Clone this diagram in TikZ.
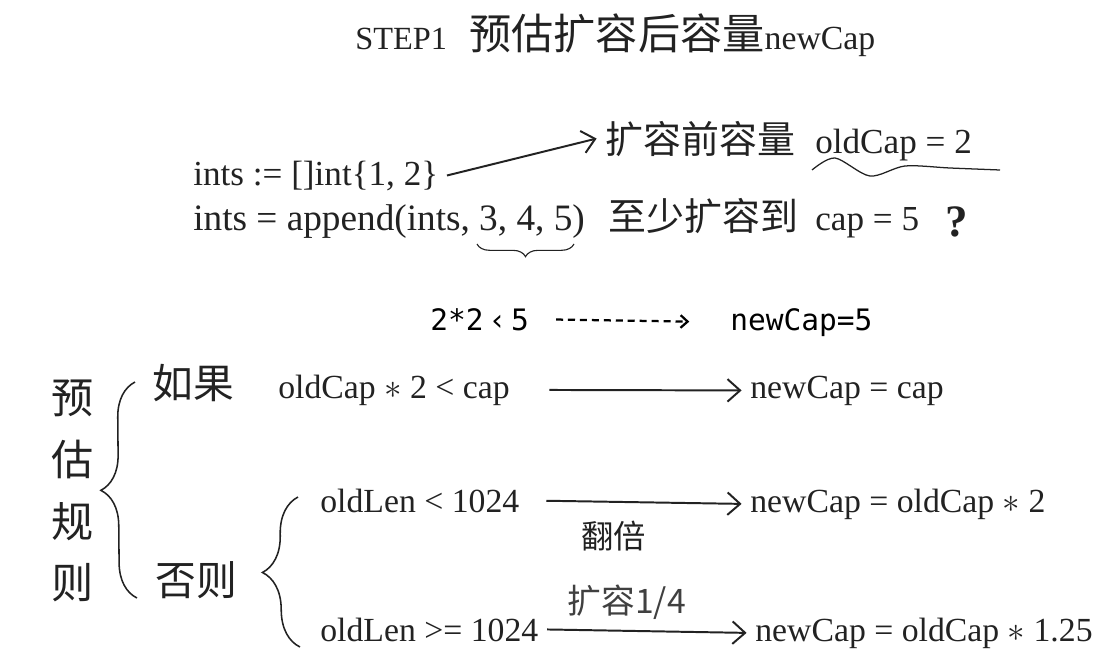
\documentclass[tikz,border=0pt]{standalone}
\usepackage{fontspec}
\setmainfont{Liberation Serif}
\newfontfamily\cjk{Noto Sans CJK SC}
\newfontfamily\mono{DejaVu Sans Mono}
\usetikzlibrary{arrows.meta, decorations.pathreplacing}
\definecolor{tinta}{HTML}{222222}

\begin{document}
\begin{tikzpicture}[
  codigo/.style = {font=\fontsize{25}{30}\selectfont, anchor=base west, inner sep=6pt, text=tinta},
  regra/.style = {font=\fontsize{24}{28}\selectfont, anchor=base west, inner sep=6pt, text=tinta},
  chines/.style = {font=\cjk\fontsize{27}{30}\selectfont, anchor=base west, inner sep=6pt, text=tinta},
  seta/.style = {-{Straight Barb[length=9pt, width=16pt]}, line width=1.4pt, tinta},
  chave/.style = {decorate, line width=1.1pt, tinta}
]
\useasboundingbox (0,0) rectangle (27.85,-16.25);

% titulo
\node [anchor = base west, inner sep = 6pt, text = tinta](titulo) at (8.665, -1.25){\fontsize{23}{28}\selectfont STEP1\hspace{16pt}{\cjk\fontsize{30}{32}\selectfont 预估扩容后容量}\fontsize{24}{28}\selectfont newCap};

% ints := []int{1, 2} e o append
\node [codigo](ints1) at (4.615, -4.625){ints := []int\{1, 2\}};
\node [chines](antes) at (14.915, -3.825){扩容前容量};
\node [codigo](oldcap) at (20.165, -3.825){oldCap = 2};
\draw [seta](ints1.east) -- (antes.west);
\draw [line width=0.9pt, tinta] plot [smooth] coordinates {(20.3,-4.25) (20.875,-3.95) (21.75,-4.4) (22.625,-4.15) (23.75,-4.2) (25.0,-4.25)};

\node [codigo, font=\fontsize{26.5}{30}\selectfont](ints2) at (4.615, -5.75){ints = append(ints, 3, 4, 5)};
\coordinate (b1) at (14.35, -6.1);
\coordinate (b2) at (11.925, -6.1);
\draw [chave, decoration={brace, amplitude=9pt}, line width=0.8pt](b1) -- (b2);
\node [chines](minimo) at (14.99, -5.75){至少扩容到};
\node [codigo](cap5) at (20.165, -5.75){cap = 5};
\node [font=\fontsize{32}{36}\selectfont\bfseries, text=tinta](interrog) at (23.925, -5.55){?};

% exemplo
\node [font=\mono\fontsize{21}{24}\selectfont, anchor=base west, inner sep=6pt](exemplo) at (10.54, -8.25){2*2\,‹\,5};
\node [font=\mono\fontsize{21}{24}\selectfont, anchor=base west, inner sep=6pt](resultado) at (18.04, -8.25){newCap=5};
\draw [-{Straight Barb[length=5pt, width=9pt]}, line width=1.6pt, dash pattern=on 5pt off 3.5pt, shorten <=13pt, shorten >=23pt](exemplo.east) -- (resultado.west);

% regras de estimativa
\node [font=\cjk\fontsize{30}{44}\selectfont, align=center, text=tinta](regras) at (1.825, -12.275){预\\估\\规\\则};
\coordinate (c1a) at (3.375, -9.55);
\coordinate (c1b) at (3.425, -14.95);
\draw [chave, decoration={brace, amplitude=25pt}](c1b) -- (c1a);
\node [chines, font=\cjk\fontsize{29}{32}\selectfont](se) at (3.59, -9.95){如果};
\node [chines, font=\cjk\fontsize{29}{32}\selectfont](senao) at (3.665, -14.875){否则};
\node [regra](cond1) at (6.74, -9.95){oldCap $\ast$ 2 < cap};
\node [regra](res1) at (18.54, -9.95){newCap = cap};
\draw [seta, shorten <=22pt](cond1.east) -- (res1.west);

\coordinate (c2a) at (7.45, -12.425);
\coordinate (c2b) at (7.5, -16.175);
\draw [chave, decoration={brace, amplitude=26pt}](c2b) -- (c2a);
\node [regra](cond2) at (7.79, -12.8){oldLen < 1024};
\node [regra](res2) at (18.54, -12.8){newCap = oldCap $\ast$ 2};
\draw [seta, shorten <=13pt](cond2.east) -- node [pos=0.4, below=11pt, inner sep=2pt, font=\cjk\fontsize{23}{26}\selectfont, text=tinta](dobro){翻倍} (res2.west);
\node [regra](cond3) at (7.79, -16.025){oldLen >= 1024};
\node [regra](res3) at (18.665, -16.025){newCap = oldCap $\ast$ 1.25};
\draw [seta](cond3.east) -- node [pos=0.4, above=5pt, inner sep=2pt, font=\cjk\fontsize{24}{26}\selectfont, text=black!75](quarto){扩容1/4} (res3.west);

\end{tikzpicture}
\end{document}
